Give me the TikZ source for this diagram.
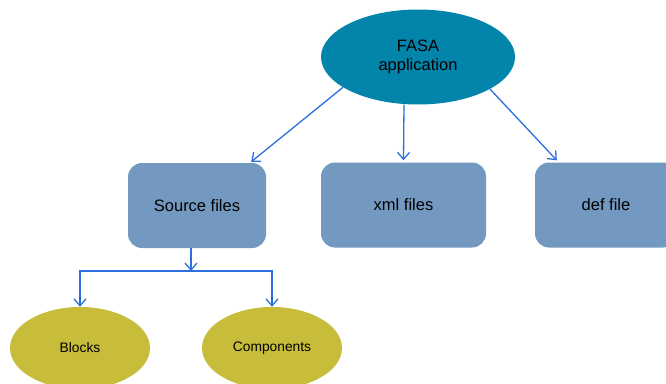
\documentclass[tikz,border=0pt]{standalone}
\usepackage{fontspec}
\setmainfont{Liberation Sans}
\usetikzlibrary{shapes.geometric,arrows.meta}
\definecolor{teal}{HTML}{0284AB}
\definecolor{boxblue}{HTML}{7399C1}
\definecolor{olive}{HTML}{C8BD3A}
\definecolor{linkblue}{HTML}{2C6FDE}
\tikzset{
  top/.style={ellipse, fill=teal, minimum width=194pt, minimum height=95pt, inner sep=0pt,
    align=center, font=\fontsize{16.5}{19}\selectfont},
  filebox/.style={rectangle, rounded corners=14pt, fill=boxblue, minimum height=85pt, inner sep=0pt,
    font=\fontsize{16.5}{19}\selectfont},
  part/.style={ellipse, fill=olive, minimum width=140pt, minimum height=82pt, inner sep=0pt,
    font=\fontsize{13.8}{16}\selectfont},
  link/.style={draw=linkblue, line width=1.3pt, -{Straight Barb[length=7pt,width=12pt,line width=1.3pt]}},
}
\begin{document}
\begin{tikzpicture}[x=1pt,y=-1pt]
  \useasboundingbox (0,0) rectangle (666,383);
  \clip (0,0) rectangle (666,383);
  \node[top] (fasa) at (418,57) {FASA\\application};
  \node[filebox, minimum width=138pt] (src) at (197,205.5) {Source files};
  \node[filebox, minimum width=165pt] (xml) at (403.5,205) {xml files};
  \node[filebox, minimum width=142pt] (def) at (606,205) {def file};
  \node[part] (blocks) at (80,348) {Blocks};
  \node[part] (comp) at (272,348) {Components};
  \coordinate (bar) at (191,271);

  \draw[link] (fasa.-158) -- ([xshift=-15pt,yshift=1pt]src.north east);
  \draw[link] ([xshift=-14pt]fasa.south) -- ([yshift=2pt]xml.north);
  \draw[link] (fasa.-24) -- ([xshift=22pt,yshift=2pt]def.north west);
  \draw[link] ([xshift=-6pt]src.south) -- (bar);
  \draw[link] (bar) -| (blocks.north);
  \draw[link] (bar) -| (comp.north);
\end{tikzpicture}
\end{document}
